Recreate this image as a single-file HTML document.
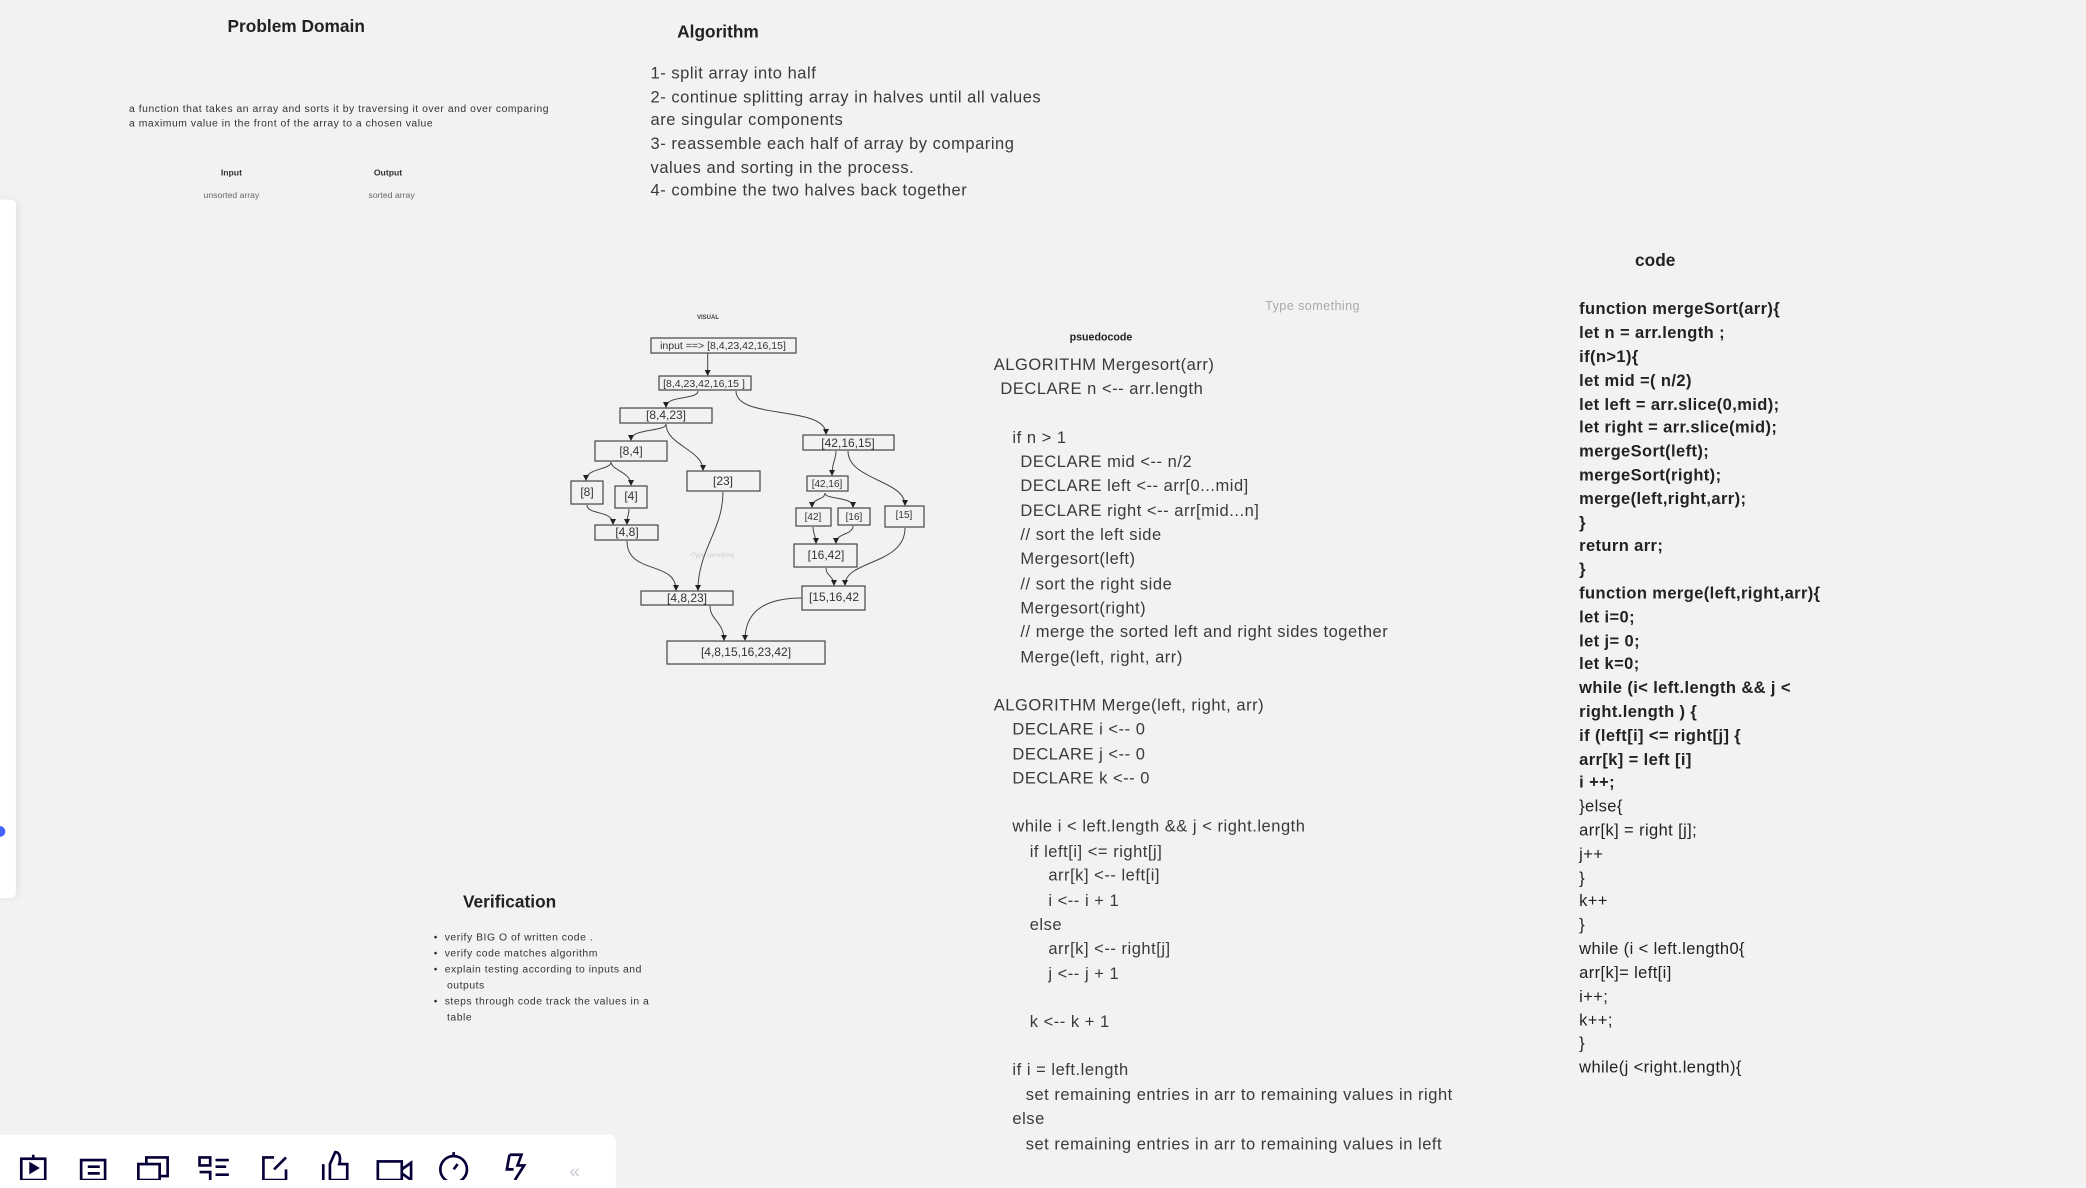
<!DOCTYPE html>
<html><head><meta charset="utf-8">
<style>
html,body{margin:0;padding:0;background:#f2f2f2;width:2086px;height:1180px;overflow:hidden}
#w{position:absolute;left:0;top:0;width:1568px;height:887px;transform:scale(1.33036);transform-origin:0 0;font-family:"Liberation Sans",sans-serif;color:#333}
.t{position:absolute;white-space:nowrap;line-height:18px;transform:translateY(-9px)}
.b{font-weight:bold}
.h{font-weight:bold;font-size:13px;color:#222}
.p{font-size:12.4px;color:#3a3a3a;letter-spacing:0.4px}
.c{font-size:12.4px;color:#222;letter-spacing:0.3px}
.s{font-size:7.8px;color:#333;letter-spacing:0.4px}
</style></head><body>
<div id="w">
<div style="position:absolute;left:0;top:150px;width:12px;height:525px;background:#fff;border-radius:0 4px 4px 0;box-shadow:1px 0 6px rgba(0,0,0,0.08)"></div>
<div style="position:absolute;left:-4px;top:621px;width:8px;height:8px;border-radius:50%;background:#4262ff"></div>

<div class="t h" style="left:171px;top:20px">Problem Domain</div>
<div class="t s" style="left:97px;top:81px;line-height:11px;transform:translateY(-5px)">a function that takes an array and sorts it by traversing it over and over comparing</div>
<div class="t s" style="left:97px;top:92px;line-height:11px;transform:translateY(-5px)">a maximum value in the front of the array to a chosen value</div>
<div class="t b" style="left:166px;top:131px;font-size:6.5px">Input</div>
<div class="t b" style="left:281px;top:131px;font-size:6.5px">Output</div>
<div class="t" style="left:153px;top:148px;font-size:6.5px;color:#666">unsorted array</div>
<div class="t" style="left:277px;top:148px;font-size:6.5px;color:#666">sorted array</div>

<div class="t h" style="left:509px;top:24px">Algorithm</div>
<div class="t p" style="left:489px;top:55px">1- split array into half</div>
<div class="t p" style="left:489px;top:73px">2- continue splitting array in halves until all values</div>
<div class="t p" style="left:489px;top:90px">are singular components</div>
<div class="t p" style="left:489px;top:108px">3- reassemble each half of array by comparing</div>
<div class="t p" style="left:489px;top:126px">values and sorting in the process.</div>
<div class="t p" style="left:489px;top:143px">4- combine the two halves back together</div>

<div class="t" style="left:951px;top:231px;font-size:9.5px;color:#aaa;letter-spacing:0.3px">Type something</div>
<div class="t b" style="left:804px;top:254px;font-size:8px;color:#222">psuedocode</div>

<div class="t p" style="left:747px;top:274px">ALGORITHM Mergesort(arr)</div>
<div class="t p" style="left:752px;top:292px">DECLARE n &lt;-- arr.length</div>
<div class="t p" style="left:761px;top:329px">if n &gt; 1</div>
<div class="t p" style="left:767px;top:347px">DECLARE mid &lt;-- n/2</div>
<div class="t p" style="left:767px;top:365px">DECLARE left &lt;-- arr[0...mid]</div>
<div class="t p" style="left:767px;top:384px">DECLARE right &lt;-- arr[mid...n]</div>
<div class="t p" style="left:767px;top:402px">// sort the left side</div>
<div class="t p" style="left:767px;top:420px">Mergesort(left)</div>
<div class="t p" style="left:767px;top:439px">// sort the right side</div>
<div class="t p" style="left:767px;top:457px">Mergesort(right)</div>
<div class="t p" style="left:767px;top:475px">// merge the sorted left and right sides together</div>
<div class="t p" style="left:767px;top:494px">Merge(left, right, arr)</div>
<div class="t p" style="left:747px;top:530px">ALGORITHM Merge(left, right, arr)</div>
<div class="t p" style="left:761px;top:548px">DECLARE i &lt;-- 0</div>
<div class="t p" style="left:761px;top:567px">DECLARE j &lt;-- 0</div>
<div class="t p" style="left:761px;top:585px">DECLARE k &lt;-- 0</div>
<div class="t p" style="left:761px;top:621px">while i &lt; left.length &amp;&amp; j &lt; right.length</div>
<div class="t p" style="left:774px;top:640px">if left[i] &lt;= right[j]</div>
<div class="t p" style="left:788px;top:658px">arr[k] &lt;-- left[i]</div>
<div class="t p" style="left:788px;top:677px">i &lt;-- i + 1</div>
<div class="t p" style="left:774px;top:695px">else</div>
<div class="t p" style="left:788px;top:713px">arr[k] &lt;-- right[j]</div>
<div class="t p" style="left:788px;top:732px">j &lt;-- j + 1</div>
<div class="t p" style="left:774px;top:768px">k &lt;-- k + 1</div>
<div class="t p" style="left:761px;top:804px">if i = left.length</div>
<div class="t p" style="left:771px;top:823px">set remaining entries in arr to remaining values in right</div>
<div class="t p" style="left:761px;top:841px">else</div>
<div class="t p" style="left:771px;top:860px">set remaining entries in arr to remaining values in left</div>

<div class="t h" style="left:1229px;top:196px">code</div>
<div class="t c b" style="left:1187px;top:232px">function mergeSort(arr){</div>
<div class="t c b" style="left:1187px;top:250px">let n = arr.length ;</div>
<div class="t c b" style="left:1187px;top:268px">if(n&gt;1){</div>
<div class="t c b" style="left:1187px;top:286px">let mid =( n/2)</div>
<div class="t c b" style="left:1187px;top:304px">let left = arr.slice(0,mid);</div>
<div class="t c b" style="left:1187px;top:321px">let right = arr.slice(mid);</div>
<div class="t c b" style="left:1187px;top:339px">mergeSort(left);</div>
<div class="t c b" style="left:1187px;top:357px">mergeSort(right);</div>
<div class="t c b" style="left:1187px;top:375px">merge(left,right,arr);</div>
<div class="t c b" style="left:1187px;top:393px">}</div>
<div class="t c b" style="left:1187px;top:410px">return arr;</div>
<div class="t c b" style="left:1187px;top:428px">}</div>
<div class="t c b" style="left:1187px;top:446px">function merge(left,right,arr){</div>
<div class="t c b" style="left:1187px;top:464px">let i=0;</div>
<div class="t c b" style="left:1187px;top:482px">let j= 0;</div>
<div class="t c b" style="left:1187px;top:499px">let k=0;</div>
<div class="t c b" style="left:1187px;top:517px">while (i&lt; left.length &amp;&amp; j &lt;</div>
<div class="t c b" style="left:1187px;top:535px">right.length ) {</div>
<div class="t c b" style="left:1187px;top:553px">if (left[i] &lt;= right[j] {</div>
<div class="t c b" style="left:1187px;top:571px">arr[k] = left [i]</div>
<div class="t c b" style="left:1187px;top:588px">i ++;</div>
<div class="t c" style="left:1187px;top:606px">}else{</div>
<div class="t c" style="left:1187px;top:624px">arr[k] = right [j];</div>
<div class="t c" style="left:1187px;top:642px">j++</div>
<div class="t c" style="left:1187px;top:660px">}</div>
<div class="t c" style="left:1187px;top:677px">k++</div>
<div class="t c" style="left:1187px;top:695px">}</div>
<div class="t c" style="left:1187px;top:713px">while (i &lt; left.length0{</div>
<div class="t c" style="left:1187px;top:731px">arr[k]= left[i]</div>
<div class="t c" style="left:1187px;top:749px">i++;</div>
<div class="t c" style="left:1187px;top:767px">k++;</div>
<div class="t c" style="left:1187px;top:784px">}</div>
<div class="t c" style="left:1187px;top:802px">while(j &lt;right.length){</div>

<div class="t h" style="left:348px;top:678px">Verification</div>
<div class="t s" style="left:326px;top:705px;line-height:12px;transform:translateY(-6px)">•&nbsp;&nbsp;verify BIG O of written code .</div>
<div class="t s" style="left:326px;top:717px;line-height:12px;transform:translateY(-6px)">•&nbsp;&nbsp;verify code matches algorithm</div>
<div class="t s" style="left:326px;top:729px;line-height:12px;transform:translateY(-6px)">•&nbsp;&nbsp;explain testing according to inputs and</div>
<div class="t s" style="left:336px;top:741px;line-height:12px;transform:translateY(-6px)">outputs</div>
<div class="t s" style="left:326px;top:753px;line-height:12px;transform:translateY(-6px)">•&nbsp;&nbsp;steps through code track the values in a</div>
<div class="t s" style="left:336px;top:765px;line-height:12px;transform:translateY(-6px)">table</div>

<svg style="position:absolute;left:0;top:0" width="1568" height="887" viewBox="0 0 2086 1180">
<defs><marker id="a" markerWidth="6" markerHeight="6" refX="5" refY="3" orient="auto" markerUnits="userSpaceOnUse"><path d="M0,0 L6,3 L0,6z" fill="#222"/></marker></defs>
<text x="708" y="319" font-size="6" font-weight="bold" text-anchor="middle" font-family="Liberation Sans" fill="#444">VISUAL</text>
<text x="690" y="557" font-size="6" font-family="Liberation Sans" fill="#ccc">•Type something</text>
<g fill="none" stroke="#444" stroke-width="1.2">
<rect x="651" y="338" width="145" height="15"/>
<rect x="659" y="376" width="92" height="14"/>
<rect x="620" y="408" width="92" height="15"/>
<rect x="595" y="441" width="72" height="20"/>
<rect x="571" y="481" width="32" height="23"/>
<rect x="615" y="486" width="32" height="22"/>
<rect x="687" y="471" width="73" height="20"/>
<rect x="595" y="525" width="63" height="15"/>
<rect x="641" y="591" width="92" height="14"/>
<rect x="803" y="435" width="91" height="15"/>
<rect x="807" y="476" width="41" height="15"/>
<rect x="796" y="508" width="35" height="18"/>
<rect x="838" y="508" width="32" height="17"/>
<rect x="885" y="506" width="39" height="21"/>
<rect x="794" y="544" width="63" height="23"/>
<rect x="802" y="586" width="63" height="24"/>
<rect x="667" y="641" width="158" height="23"/>
</g>
<g font-family="Liberation Sans" fill="#333" text-anchor="middle">
<text x="723" y="349" font-size="10.5">input ==&gt; [8,4,23,42,16,15]</text>
<text x="704" y="387" font-size="10.5">[8,4,23,42,16,15 ]</text>
<text x="666" y="419" font-size="12">[8,4,23]</text>
<text x="631" y="455" font-size="12">[8,4]</text>
<text x="587" y="496" font-size="12">[8]</text>
<text x="631" y="500" font-size="12">[4]</text>
<text x="723" y="485" font-size="12">[23]</text>
<text x="627" y="536" font-size="12">[4,8]</text>
<text x="687" y="602" font-size="12">[4,8,23]</text>
<text x="848" y="447" font-size="12">[42,16,15]</text>
<text x="827" y="487" font-size="10">[42,16]</text>
<text x="813" y="520" font-size="10">[42]</text>
<text x="854" y="520" font-size="10">[16]</text>
<text x="904" y="518" font-size="10">[15]</text>
<text x="826" y="559" font-size="12">[16,42]</text>
<text x="834" y="601" font-size="12">[15,16,42</text>
<text x="746" y="656" font-size="12">[4,8,15,16,23,42]</text>
</g>
<g fill="none" stroke="#444" stroke-width="1" marker-end="url(#a)">
<path d="M707.7,353 L707.7,375"/>
<path d="M698,391 C698,400 666,395 666,407"/>
<path d="M736,391 C736,420 826,405 826,434"/>
<path d="M666,424 C666,432 631,428 631,440"/>
<path d="M666,424 C666,445 703,450 703,470"/>
<path d="M611,462 C611,470 586,468 586,480"/>
<path d="M611,462 C611,470 631,472 631,485"/>
<path d="M587,505 C587,515 613,510 613,524"/>
<path d="M629,509 C629,515 627,515 627,524"/>
<path d="M627,541 C627,575 676,560 676,590"/>
<path d="M723,492 C723,530 698,550 698,590"/>
<path d="M710,606 C710,620 724,622 724,640"/>
<path d="M802,598 C760,598 745,615 745,640"/>
<path d="M836,451 C836,460 832,462 832,475"/>
<path d="M848,451 C848,480 905,480 905,505"/>
<path d="M825,493 C825,500 812,498 812,507"/>
<path d="M825,493 C825,500 853,496 853,507"/>
<path d="M813,527 C813,535 816,535 816,543"/>
<path d="M853,526 C853,535 836,533 836,543"/>
<path d="M826,568 C826,576 834,576 834,585"/>
<path d="M905,528 C905,565 845,560 845,585"/>
</g>
</svg>

<div style="position:absolute;left:0;top:853px;width:463px;height:40px;background:#fff;border-radius:0 5px 0 0"></div>
<svg style="position:absolute;left:0;top:853px" width="463" height="34" viewBox="0 0 463 34">
<g fill="none" stroke="#050038" stroke-width="2">
<rect x="16" y="18" width="18" height="16"/><path d="M25,15 v3"/>
<path d="M23,22 l5,3 l-5,3z" fill="#050038"/>
<rect x="61" y="19" width="18" height="15"/><path d="M66,24 h9 M66,29 h9"/>
<rect x="104" y="22" width="16" height="12"/><path d="M110,22 v-5 h16 v14 h-6"/>
<path d="M150,17 h8 v6 h-8z M150,28 h8 v6 M162,19 h10 M162,24 h8 M162,30 h10"/>
<path d="M206,17 h-8 v17 h17 v-8 M206,26 l9,-9"/>
<path d="M243,34 v-12 M248,34 v-12 l4,-9 c4,0 4,6 3,9 h6 v12 h-13"/>
<rect x="284" y="20" width="18" height="14"/><path d="M302,26 l7,-5 v13 l-7,-5"/>
<circle cx="341" cy="26" r="10"/><path d="M341,13 v3 M341,26 l3,-4"/>
<path d="M383,15 h9 l-3,8 h5 l-7,11 M383,15 l-2,11 h5"/>
</g>
<text x="432" y="32" font-size="14" font-family="Liberation Sans" fill="#c8c8d4" text-anchor="middle">«</text>
</svg>
</div>
</body></html>
